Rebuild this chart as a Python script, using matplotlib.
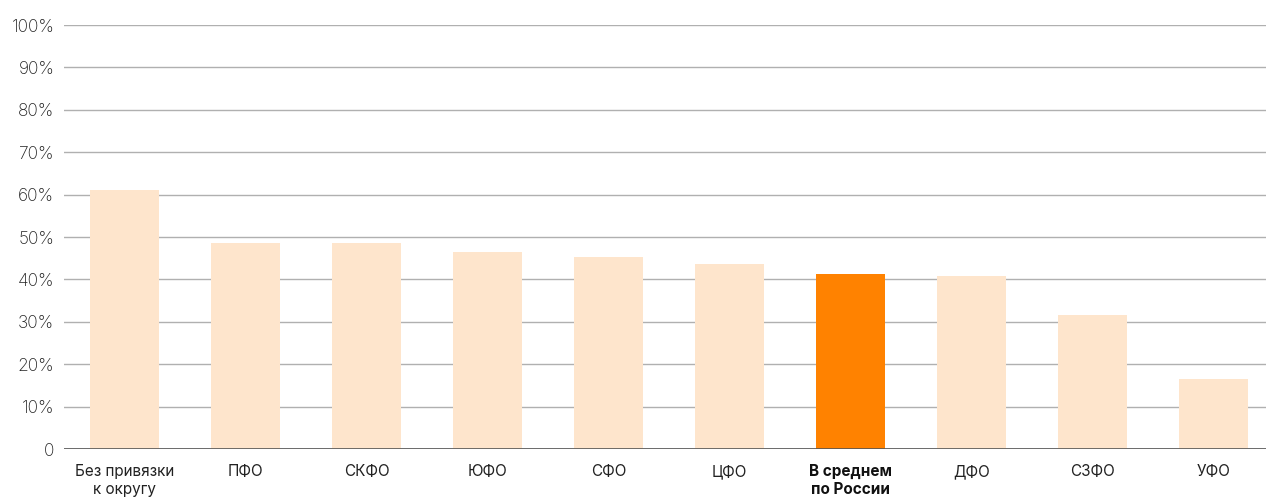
import matplotlib.pyplot as plt
import numpy as np

plt.rcParams['font.family'] = ['Inter', 'DejaVu Sans']

categories = ['Без привязки\nк округу', 'ПФО', 'СКФО', 'ЮФО', 'СФО', 'ЦФО',
              'В среднем\nпо России', 'ДФО', 'СЗФО', 'УФО']
values = [61.1, 48.6, 48.6, 46.5, 45.3, 43.6, 41.3, 40.8, 31.6, 16.5]
highlight = 'В среднем\nпо России'
yticks = [0, 10, 20, 30, 40, 50, 60, 70, 80, 90, 100]
ytick_labels = ['0'] + [f'{v}%' for v in yticks[1:]]

colors = ['#ff8200' if c == highlight else '#fee5cc' for c in categories]

fig = plt.figure(figsize=(12.66, 5), dpi=100)
ax = fig.add_axes([64 / 1266, 51 / 500, 1 - 64 / 1266, 424 / 500])

x = np.arange(len(categories))
ax.bar(x, values, width=0.57, color=colors, zorder=2)

ax.set_ylim(0, 100)
ax.set_xlim(-0.5, 9.43)
ax.set_yticks(yticks)
ax.set_yticklabels(ytick_labels, fontsize=12.5, color='#222222', fontweight='light')
ax.grid(axis='y', color='#b0b0b0', linewidth=1, zorder=0)
ax.axhline(0, color='#555555', linewidth=1.2, zorder=3)

ax.set_xticks(x)
ax.set_xticklabels(categories, fontsize=11, color='#222222', linespacing=1.2)
for lbl in ax.get_xticklabels():
    if lbl.get_text() == highlight:
        lbl.set_fontweight('bold')
        lbl.set_color('#111111')

ax.tick_params(axis='both', length=0)
ax.tick_params(axis='y', pad=7)
ax.tick_params(axis='x', pad=11)
for s in ax.spines.values():
    s.set_visible(False)

plt.savefig('out.png', dpi=100)
